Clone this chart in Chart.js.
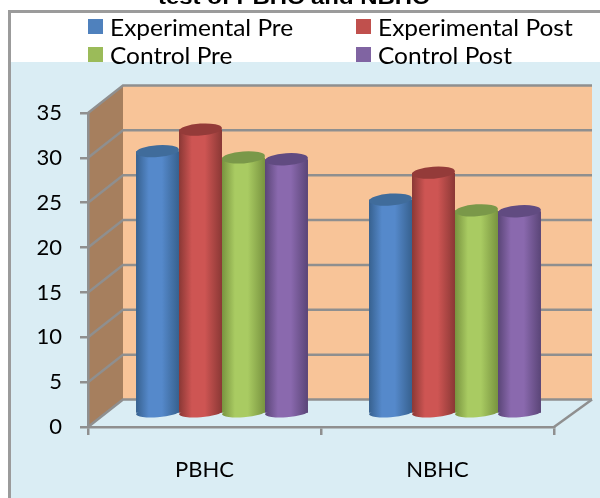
<!DOCTYPE html>
<html>
<head>
<meta charset="utf-8">
<script src="https://cdn.jsdelivr.net/npm/chart.js@4"></script>
<style>
html, body { margin: 0; padding: 0; background: #fff; overflow: hidden; }
#wrap { position: relative; width: 600px; height: 498px; overflow: hidden; }
#myChart { position: absolute; left: 0; top: 0; }
#title { position: absolute; left: 158px; top: -15px; transform-origin: left top; transform: scaleX(1.14); font: bold 21px "Liberation Sans"; color: #000; white-space: nowrap; }
.item { position: absolute; font: 23px Lato; line-height: 26px; color: #000; white-space: nowrap; transform-origin: left top; transform: scaleX(1.065); }
.box { position: absolute; width: 15px; height: 15px; }
</style>
</head>
<body>
<div id="wrap">
  <canvas id="myChart" width="600" height="498"></canvas>
  <div id="title">test of PBHC and NBHC</div>
</div>
<script>
const chartTitle = "test of PBHC and NBHC";
const categories = ["PBHC", "NBHC"];
const seriesNames = ["Experimental Pre", "Experimental Post", "Control Pre", "Control Post"];
const experimentalPre = [29.3, 23.9];
const experimentalPost = [31.7, 26.9];
const controlPre = [28.6, 22.7];
const controlPost = [28.4, 22.6];
const yTicks = [0, 5, 10, 15, 20, 25, 30, 35];

const seriesValues = [experimentalPre, experimentalPost, controlPre, controlPost];
const legendColors = ["#4f81bd", "#c0504d", "#9bbb59", "#8064a2"];
const edgeColors = ["#37618f", "#8a3835", "#78933f", "#5a4577"];
const midColors = ["#5589cb", "#ce5553", "#a9cb62", "#8a69ae"];
const capColors = ["#406c9b", "#943b39", "#7a9849", "#614b81"];

const gray = "#8f8f8f";
const depthX = 17.5;
const depthY = -13;
const categoryPct = 0.738;

const barGradient = (chart, datasetIndex, dataIndex) => {
    const xs = chart.scales.x;
    if (!xs || !xs.width) return legendColors[datasetIndex];
    const barW = xs.width / categories.length * categoryPct / seriesNames.length;
    const left = xs.getPixelForValue(dataIndex) + (datasetIndex - 2) * barW;
    const g = chart.ctx.createLinearGradient(left, 0, left + barW, 0);
    g.addColorStop(0, edgeColors[datasetIndex]);
    g.addColorStop(0.3, midColors[datasetIndex]);
    g.addColorStop(0.6, midColors[datasetIndex]);
    g.addColorStop(1, edgeColors[datasetIndex]);
    return g;
};

// frame, back wall and side wall of the fake 3d box
const boxPlugin = {
    id: 'box',
    beforeDraw: (chart) => {
        const ctx = chart.ctx;
        const ys = chart.scales.y;
        const xs = chart.scales.x;
        const left = xs.left, right = xs.right;
        const bottom = ys.bottom, top = ys.top;
        const backLeft = left + 35, backRight = right + 38, back = -27.5;
        ctx.save();
        ctx.fillStyle = "#ffffff";
        ctx.fillRect(0, 0, 600, 498);
        ctx.fillStyle = "#daedf4";
        ctx.fillRect(10, 62, 590, 436);
        ctx.strokeStyle = "#9b9b9b";
        ctx.lineWidth = 3;
        ctx.strokeRect(9.5, 11.5, 640, 540);

        ctx.fillStyle = "#f8c498";
        ctx.fillRect(backLeft, top + back, backRight - backLeft, bottom - top);
        ctx.fillStyle = "#a67f5e";
        ctx.beginPath();
        ctx.moveTo(left, bottom);
        ctx.lineTo(left, top);
        ctx.lineTo(backLeft, top + back);
        ctx.lineTo(backLeft, bottom + back);
        ctx.closePath();
        ctx.fill();

        ctx.strokeStyle = gray;
        ctx.lineWidth = 2.5;
        ys.ticks.forEach((t) => {
            const y = ys.getPixelForValue(t.value);
            ctx.beginPath();
            ctx.moveTo(left, y);
            ctx.lineTo(backLeft, y + back);
            ctx.lineTo(backRight, y + back);
            ctx.stroke();
        });
        ctx.beginPath();
        ctx.moveTo(right, bottom);
        ctx.lineTo(backRight, bottom + back);
        ctx.stroke();
        ctx.restore();
    },
    beforeDatasetsDraw: (chart) => {
        chart.ctx.save();
        chart.ctx.translate(depthX, depthY);
    },
    afterDatasetsDraw: (chart) => {
        chart.ctx.restore();
    },
    beforeDatasetDraw: (chart, args) => {
        const ctx = chart.ctx;
        args.meta.data.forEach((bar, i) => {
            ctx.fillStyle = barGradient(chart, args.index, i);
            ctx.beginPath();
            ctx.ellipse(bar.x, bar.base, bar.width / 2, 4.5, -0.07, 0, Math.PI * 2);
            ctx.fill();
        });
    },
    afterDatasetDraw: (chart, args) => {
        const ctx = chart.ctx;
        args.meta.data.forEach((bar) => {
            ctx.fillStyle = capColors[args.index];
            ctx.beginPath();
            ctx.ellipse(bar.x, bar.y, bar.width / 2, 6, -0.07, 0, Math.PI * 2);
            ctx.fill();
        });
    }
};

const init = () => {
    const ctx = document.getElementById("myChart").getContext("2d");
    new Chart(ctx, {
        type: "bar",
        plugins: [boxPlugin],
        data: {
            labels: categories,
            datasets: seriesNames.map((name, i) => ({
                label: name,
                data: seriesValues[i],
                clip: false,
                borderWidth: 0,
                backgroundColor: (c) => barGradient(c.chart, c.datasetIndex, c.dataIndex)
            }))
        },
        options: {
            responsive: false,
            animation: false,
            categoryPercentage: categoryPct,
            barPercentage: 1,
            layout: { padding: { top: 113, right: 46, left: 0, bottom: 0 } },
            plugins: { legend: { display: false }, title: { display: false }, tooltip: { enabled: false } },
            scales: {
                x: {
                    afterFit: (s) => { s.height = 71; },
                    border: { color: gray, width: 2.5 },
                    grid: { color: gray, lineWidth: 2.5, tickLength: 8, drawOnChartArea: false, offset: true },
                    ticks: { color: "#000", font: { family: "Lato", size: 22 }, padding: 22, maxRotation: 0 }
                },
                y: {
                    min: 0,
                    max: 35,
                    afterFit: (s) => { s.width = 88; },
                    afterBuildTicks: (s) => { s.ticks = yTicks.map((v) => ({ value: v })); },
                    border: { color: gray, width: 2.5 },
                    grid: { color: gray, lineWidth: 2.5, tickLength: 8, drawOnChartArea: false },
                    ticks: { color: "#000", font: { family: "Lato", size: 22 }, padding: 18 }
                }
            }
        }
    });
};

// legend sits in two fixed columns, so it is built by hand
const legendX = [88, 356];
const legendY = [19, 47];
const wrap = document.getElementById("wrap");
seriesNames.forEach((name, i) => {
    const box = document.createElement("div");
    box.className = "box";
    box.style.left = legendX[i % 2] + "px";
    box.style.top = legendY[Math.floor(i / 2)] + "px";
    box.style.background = legendColors[i];
    wrap.appendChild(box);
    const label = document.createElement("div");
    label.className = "item";
    label.textContent = name;
    label.style.left = (legendX[i % 2] + 22) + "px";
    label.style.top = (legendY[Math.floor(i / 2)] - 5) + "px";
    wrap.appendChild(label);
});
document.getElementById("title").textContent = chartTitle;

init();
</script>
</body>
</html>
